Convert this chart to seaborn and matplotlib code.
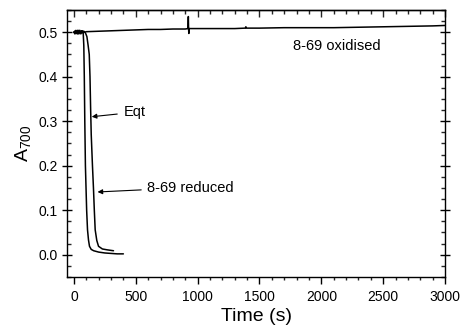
import numpy as np
import pandas as pd
import matplotlib
matplotlib.use("Agg")
import matplotlib.pyplot as plt
import seaborn as sns
from matplotlib.ticker import MultipleLocator

# Oxidised trace (s, A700)
ox_time = [0, 8, 16, 24, 32, 40, 48, 56, 64, 72, 80, 90, 100, 200, 300, 400, 500,
           600, 700, 800, 900, 922, 925, 927, 929, 931, 933, 1000, 1100, 1200,
           1300, 1385, 1390, 1395, 1500, 1700, 1900, 2100, 2300, 2500, 2700,
           2900, 3000]
ox_abs = [0.500, 0.496, 0.504, 0.497, 0.503, 0.498, 0.504, 0.496, 0.503, 0.498,
          0.502, 0.500, 0.501, 0.502, 0.503, 0.504, 0.505, 0.506, 0.506, 0.507,
          0.507, 0.508, 0.535, 0.508, 0.497, 0.508, 0.508, 0.508, 0.508, 0.508,
          0.508, 0.509, 0.512, 0.509, 0.509, 0.510, 0.510, 0.510, 0.511, 0.512,
          0.513, 0.514, 0.515]

# Eqt trace
eqt_time = [0, 10, 20, 30, 40, 50, 60, 70, 75, 80, 84, 88, 93, 98, 103, 110,
            118, 126, 140, 160, 200, 250, 300, 350, 400]
eqt_abs = [0.500, 0.497, 0.503, 0.496, 0.504, 0.498, 0.503, 0.500, 0.499, 0.470,
           0.400, 0.300, 0.200, 0.150, 0.100, 0.056, 0.033, 0.019, 0.012, 0.009,
           0.006, 0.004, 0.003, 0.002, 0.002]

# 8-69 reduced trace
red_time = [0, 10, 20, 30, 40, 50, 60, 70, 80, 92, 105, 115, 124, 130, 135,
            140, 150, 158, 165, 172, 185, 199, 230, 270, 320]
red_abs = [0.500, 0.503, 0.497, 0.504, 0.496, 0.502, 0.498, 0.503, 0.500, 0.499,
           0.490, 0.470, 0.450, 0.400, 0.330, 0.270, 0.200, 0.150, 0.100, 0.056,
           0.032, 0.019, 0.013, 0.011, 0.009]

sns.set_style("ticks")
plt.rcParams["font.family"] = ["Liberation Sans", "DejaVu Sans"]
plt.rcParams["mathtext.default"] = "regular"
plt.rcParams["text.color"] = "black"
plt.rcParams["axes.labelcolor"] = "black"

fig, ax = plt.subplots(figsize=(4.66, 3.29), dpi=100)
fig.subplots_adjust(left=0.144, right=0.955, top=0.970, bottom=0.158)

for t, a in [(ox_time, ox_abs), (eqt_time, eqt_abs), (red_time, red_abs)]:
    df = pd.DataFrame({"t": t, "a": a})
    sns.lineplot(data=df, x="t", y="a", ax=ax, color="black", lw=1.1,
                 sort=False, estimator=None)

ax.set_xlim(-55, 3000)
ax.set_ylim(-0.05, 0.55)
ax.xaxis.set_major_locator(MultipleLocator(500))
ax.xaxis.set_minor_locator(MultipleLocator(100))
ax.yaxis.set_major_locator(MultipleLocator(0.1))
ax.yaxis.set_minor_locator(MultipleLocator(0.025))

for s in ax.spines.values():
    s.set_linewidth(1.0)
    s.set_color("black")

ax.tick_params(axis="x", which="major", direction="out", length=5, width=1,
               labelsize=10, pad=4, colors="black")
ax.tick_params(axis="x", which="minor", direction="out", length=2.5, width=1)
ax.tick_params(axis="y", which="major", direction="inout", length=7, width=1,
               labelsize=10, pad=3, right=True, colors="black")
ax.tick_params(axis="y", which="minor", direction="in", length=3, width=1,
               right=True)

top = ax.secondary_xaxis("top")
top.xaxis.set_major_locator(MultipleLocator(500))
top.xaxis.set_minor_locator(MultipleLocator(100))
top.tick_params(which="major", direction="in", length=5, width=1, labeltop=False)
top.tick_params(which="minor", direction="in", length=3, width=1)
top.spines["top"].set_linewidth(1.0)

ax.set_xlabel("Time (s)", fontsize=14, labelpad=3)
ax.set_ylabel(r"A$_{700}$", fontsize=14, labelpad=4)

ax.text(1770, 0.469, "8-69 oxidised", fontsize=10.5, va="center", ha="left")
ax.annotate("Eqt", xy=(144, 0.31), xytext=(399, 0.32), fontsize=10.5,
            va="center", ha="left",
            arrowprops=dict(arrowstyle="-|>", color="black", lw=0.8,
                            mutation_scale=7, shrinkA=2, shrinkB=0))
ax.annotate("8-69 reduced", xy=(191, 0.141), xytext=(593, 0.151), fontsize=10.5,
            va="center", ha="left",
            arrowprops=dict(arrowstyle="-|>", color="black", lw=0.8,
                            mutation_scale=7, shrinkA=2, shrinkB=0))

fig.savefig("out.png", dpi=100)
